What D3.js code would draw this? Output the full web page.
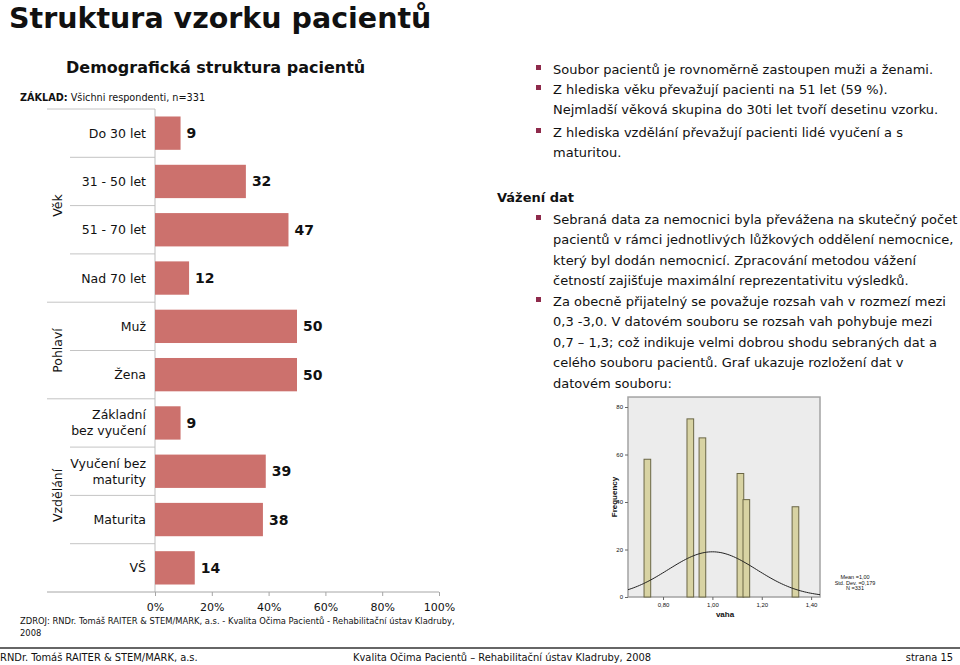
<!DOCTYPE html>
<html>
<head>
<meta charset="utf-8">
<script src="https://cdn.jsdelivr.net/npm/d3@7"></script>
<style>
  body { margin: 0; background: #fff; }
  svg { display: block; }
  text { font-family: "DejaVu Sans", Verdana, sans-serif; fill: #111; }
  .cond { font-family: "DejaVu Sans Condensed", "DejaVu Sans", sans-serif; }
  .hist text { font-family: "Liberation Sans", Arial, sans-serif; }
</style>
</head>
<body>
<script>
// demographic bars (% of respondents)
var categories = ["Do 30 let", "31 - 50 let", "51 - 70 let", "Nad 70 let", "Muž", "Žena",
  "Základní\nbez vyučení", "Vyučení bez\nmaturity", "Maturita", "VŠ"];
var groupOf = ["Věk", "Věk", "Věk", "Věk", "Pohlaví", "Pohlaví",
  "Vzdělání", "Vzdělání", "Vzdělání", "Vzdělání"];
var values = [9, 32, 47, 12, 50, 50, 9, 39, 38, 14];
var xTicks = [0, 20, 40, 60, 80, 100];

// weights histogram (vaha)
var binStart = [0.723, 0.897, 0.946, 1.100, 1.124, 1.323];
var binFreq = [58, 75, 67, 52, 41, 38];
var binWidth = 0.027;
var histXTicks = [0.8, 1.0, 1.2, 1.4];
var histYTicks = [0, 20, 40, 60, 80];
var histMean = 1.00, histSd = 0.179, histN = 331, curveBin = 0.0258;

// slide text
var bullets1 = [
  ["Soubor pacientů je rovnoměrně zastoupen muži a ženami."],
  ["Z hlediska věku převažují pacienti na 51 let (59 %).", "Nejmladší věková skupina do 30ti let tvoří desetinu vzorku."],
  ["Z hlediska vzdělání převažují pacienti lidé vyučení a s", "maturitou."]
];
var bullets2 = [
  ["Sebraná data za nemocnici byla převážena na skutečný počet", "pacientů v rámci jednotlivých lůžkových oddělení nemocnice,",
   "který byl dodán nemocnicí. Zpracování metodou vážení", "četností zajišťuje maximální reprezentativitu výsledků."],
  ["Za obecně přijatelný se považuje rozsah vah v rozmezí mezi", "0,3 -3,0. V datovém souboru se rozsah vah pohybuje mezi",
   "0,7 – 1,3; což indikuje velmi dobrou shodu sebraných dat a", "celého souboru pacientů. Graf ukazuje rozložení dat v", "datovém souboru:"]
];

var W = 960, H = 665;
var svg = d3.select("body").append("svg").attr("width", W).attr("height", H);

// titles
svg.append("text").attr("x", 9).attr("y", 28)
  .style("font-size", "28.5px").style("font-weight", "bold")
  .text("Struktura vzorku pacientů");
svg.append("text").attr("x", 66).attr("y", 73)
  .style("font-size", "16px").style("font-weight", "bold")
  .text("Demografická struktura pacientů");
var zak = svg.append("text").attr("x", 20).attr("y", 101).style("font-size", "9.7px");
zak.append("tspan").style("font-weight", "bold").text("ZÁKLAD:");
zak.append("tspan").text(" Všichni respondenti, n=331");

// ---- bar chart ----
var x = d3.scaleLinear().domain([0, 100]).range([155, 439]);
var y = d3.scaleBand().domain(categories).range([109, 592])
  .paddingInner(0.31).paddingOuter(0.155);
var step = y.step();
var rowTop = function(i) { return y.range()[0] + i * step; };

var chart = svg.append("g");

// row separators
categories.forEach(function(c, i) {
  var isGroupStart = i === 0 || groupOf[i] !== groupOf[i - 1];
  chart.append("line")
    .attr("x1", isGroupStart ? 47 : 70).attr("x2", x(0))
    .attr("y1", rowTop(i)).attr("y2", rowTop(i))
    .attr("stroke", "#c4c4c4").attr("stroke-width", 1);
});
chart.append("line").attr("x1", x(0)).attr("x2", x(0))
  .attr("y1", y.range()[0]).attr("y2", y.range()[1])
  .attr("stroke", "#bdbdbd");

chart.selectAll("rect.bar")
  .data(values)
  .enter()
  .append("rect")
  .attr("class", "bar")
  .attr("x", x(0))
  .attr("y", function(d, i) { return y(categories[i]); })
  .attr("width", function(d) { return x(d) - x(0); })
  .attr("height", y.bandwidth())
  .attr("fill", "#cc716d");

chart.selectAll("text.val")
  .data(values)
  .enter()
  .append("text")
  .attr("class", "val")
  .attr("x", function(d) { return x(d) + 6; })
  .attr("y", function(d, i) { return y(categories[i]) + y.bandwidth() / 2; })
  .attr("dy", "0.36em")
  .style("font-size", "14px").style("font-weight", "bold")
  .text(function(d) { return d; });

// category labels
categories.forEach(function(c, i) {
  var lines = c.split("\n");
  var cy = y(c) + y.bandwidth() / 2;
  var t = chart.append("text").attr("text-anchor", "end").style("font-size", "12.5px");
  lines.forEach(function(l, j) {
    t.append("tspan").attr("x", 146)
      .attr("y", cy + (j - (lines.length - 1) / 2) * 16)
      .attr("dy", "0.36em").text(l);
  });
});

// group labels
var groupNames = Array.from(new Set(groupOf));
groupNames.forEach(function(g) {
  var idx = groupOf.map(function(d, i) { return d === g ? i : -1; }).filter(function(i) { return i >= 0; });
  var mid = (rowTop(idx[0]) + rowTop(idx[idx.length - 1] + 1)) / 2;
  chart.append("text")
    .attr("transform", "translate(57," + mid + ") rotate(-90)")
    .attr("text-anchor", "middle").attr("dy", "0.36em")
    .style("font-size", "12.5px").text(g);
});

// x axis
var xAxis = chart.append("g")
  .attr("transform", "translate(0," + y.range()[1] + ")")
  .call(d3.axisBottom(x).tickValues(xTicks).tickSize(4).tickPadding(7)
    .tickFormat(function(d) { return d + "%"; }));
xAxis.select(".domain").remove();
xAxis.selectAll(".tick line").attr("stroke", "#a6a6a6");
xAxis.selectAll(".tick text").style("font-size", "11px").style("font-family", "DejaVu Sans").attr("fill", "#111");
chart.append("line").attr("x1", 47).attr("x2", x(100))
  .attr("y1", y.range()[1]).attr("y2", y.range()[1])
  .attr("stroke", "#a6a6a6");

// source
svg.append("text").attr("class", "cond").attr("x", 20).attr("y", 624).style("font-size", "9.3px")
  .text("ZDROJ: RNDr. Tomáš RAITER & STEM/MARK, a.s. -  Kvalita Očima Pacientů - Rehabilitační ústav Kladruby,");
svg.append("text").attr("class", "cond").attr("x", 20).attr("y", 636).style("font-size", "9.3px").text("2008");

// ---- right text ----
function bulletBlock(paras, starts) {
  paras.forEach(function(p, i) {
    svg.append("rect").attr("x", 536).attr("y", starts[i] - 9)
      .attr("width", 5).attr("height", 5).attr("fill", "#8e2a4b");
    var t = svg.append("text").style("font-size", "13px");
    p.forEach(function(l, j) {
      t.append("tspan").attr("x", 553).attr("y", starts[i] + j * 20.4).text(l);
    });
  });
}
bulletBlock(bullets1, [74, 94, 137]);
svg.append("text").attr("x", 497).attr("y", 202)
  .style("font-size", "13px").style("font-weight", "bold").text("Vážení dat");
bulletBlock(bullets2, [224, 306]);

// ---- histogram ----
var hg = svg.append("g").attr("class", "hist");
var hx = d3.scaleLinear().domain([0.658, 1.436]).range([628, 820]);
var hy = d3.scaleLinear().domain([0, 80]).range([597, 407]);
var yTop = 84.2;

hg.append("rect")
  .attr("x", hx.range()[0]).attr("y", hy(yTop))
  .attr("width", hx.range()[1] - hx.range()[0]).attr("height", hy(0) - hy(yTop))
  .attr("fill", "#ececec").attr("stroke", "#a3a3a3").attr("stroke-width", 1.5);

hg.selectAll("rect.bin")
  .data(binFreq)
  .enter()
  .append("rect")
  .attr("class", "bin")
  .attr("x", function(d, i) { return hx(binStart[i]); })
  .attr("y", function(d) { return hy(d); })
  .attr("width", function(d, i) { return hx(binStart[i] + binWidth) - hx(binStart[i]); })
  .attr("height", function(d) { return hy(0) - hy(d); })
  .attr("fill", "#d8d3a3").attr("stroke", "#6a6645").attr("stroke-width", 1);

// fitted normal curve
var curvePts = d3.range(0, 101).map(function(k) {
  var v = hx.domain()[0] + (hx.domain()[1] - hx.domain()[0]) * k / 100;
  var z = (v - histMean) / histSd;
  return [v, histN * curveBin * Math.exp(-z * z / 2) / (histSd * Math.sqrt(2 * Math.PI))];
});
hg.append("path")
  .datum(curvePts)
  .attr("d", d3.line().x(function(d) { return hx(d[0]); }).y(function(d) { return hy(d[1]); }))
  .attr("fill", "none").attr("stroke", "#222").attr("stroke-width", 1);

var hyAxis = hg.append("g").attr("transform", "translate(" + hx.range()[0] + ",0)")
  .call(d3.axisLeft(hy).tickValues(histYTicks).tickSize(3).tickPadding(2).tickFormat(d3.format("d")));
var hxAxis = hg.append("g").attr("transform", "translate(0," + hy(0) + ")")
  .call(d3.axisBottom(hx).tickValues(histXTicks).tickSize(3).tickPadding(3)
    .tickFormat(function(d) { return d3.format(".2f")(d).replace(".", ","); }));
[hyAxis, hxAxis].forEach(function(a) {
  a.select(".domain").remove();
  a.selectAll(".tick line").attr("stroke", "#666");
  a.selectAll(".tick text").style("font-size", "6px").style("font-family", "Liberation Sans").attr("fill", "#444");
});

hg.append("text").attr("transform", "translate(617,497) rotate(-90)")
  .attr("text-anchor", "middle").style("font-size", "8px").style("font-weight", "bold")
  .text("Frequency");
hg.append("text").attr("x", 725).attr("y", 617).attr("text-anchor", "middle")
  .style("font-size", "8px").style("font-weight", "bold").text("vaha");

var legend = ["Mean =1,00", "Std. Dev. =0,179", "N =331"];
hg.selectAll("text.leg")
  .data(legend)
  .enter()
  .append("text")
  .attr("class", "leg")
  .attr("x", 855).attr("y", function(d, i) { return 579 + i * 5.5; })
  .attr("text-anchor", "middle").style("font-size", "5.5px").attr("fill", "#444")
  .text(function(d) { return d; });

// ---- footer ----
svg.append("line").attr("x1", 0).attr("x2", W).attr("y1", 648).attr("y2", 648)
  .attr("stroke", "#666").attr("stroke-width", 2);
svg.append("text").attr("class", "cond").attr("x", 0).attr("y", 661).style("font-size", "11px")
  .text("RNDr. Tomáš RAITER & STEM/MARK, a.s.");
svg.append("text").attr("class", "cond").attr("x", 353).attr("y", 661).style("font-size", "11px")
  .text("Kvalita Očima Pacientů – Rehabilitační ústav Kladruby, 2008");
svg.append("text").attr("class", "cond").attr("x", 953).attr("y", 661).attr("text-anchor", "end")
  .style("font-size", "11px").text("strana 15");
</script>
</body>
</html>
